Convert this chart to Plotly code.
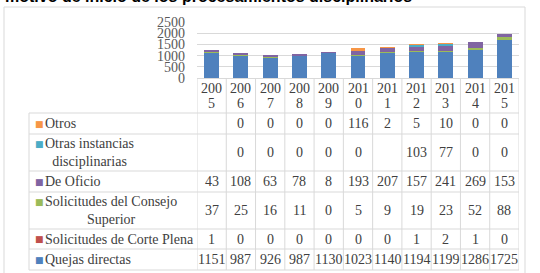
import plotly.graph_objects as go

# ---------------- data ----------------
years = ["2005", "2006", "2007", "2008", "2009", "2010", "2011", "2012", "2013", "2014", "2015"]
year_top = ["200", "200", "200", "200", "200", "201", "201", "201", "201", "201", "201"]
year_bottom = ["5", "6", "7", "8", "9", "0", "1", "2", "3", "4", "5"]

quejas_directas = [1151, 987, 926, 987, 1130, 1023, 1140, 1194, 1199, 1286, 1725]
corte_plena = [1, 0, 0, 0, 0, 0, 0, 1, 2, 1, 0]
consejo_superior = [37, 25, 16, 11, 0, 5, 9, 19, 23, 52, 88]
de_oficio = [43, 108, 63, 78, 8, 193, 207, 157, 241, 269, 153]
otras_instancias = [None, 0, 0, 0, 0, 0, None, 103, 77, 0, 0]
otros = [None, 0, 0, 0, 0, 116, 2, 5, 10, 0, 0]

series_names = ["Quejas directas", "Solicitudes de Corte Plena", "Solicitudes del Consejo Superior",
                "De Oficio", "Otras instancias disciplinarias", "Otros"]
series_labels = ["Quejas directas", "Solicitudes de Corte Plena", "Solicitudes del Consejo<br>Superior",
                 "De Oficio", "Otras instancias<br>disciplinarias", "Otros"]
series_values = [quejas_directas, corte_plena, consejo_superior, de_oficio, otras_instancias, otros]
series_colors = ["#4F81BD", "#C0504D", "#9BBB59", "#8064A2", "#4BACC6", "#F79646"]

y_ticks = [0, 500, 1000, 1500, 2000, 2500]
title_text = "motivo de inicio de los procesamientos disciplinarios"

# ---------------- layout geometry (pixels) ----------------
W, H = 540, 273
L, R, T, B = 197, 519, 22, 78
# table row boundaries (top to bottom): Otros ... Quejas directas
row_edges = [113, 134, 171, 192, 229, 249, 270]
header_lines = [88, 103]
label_left = 29
key_x = 33
text_x = 43
FONT = "Liberation Serif"
TXT = "#404040"
GRID = "#D9D9D9"


def xp(px):
    return (px - L) / (R - L)


def yp(py):
    return (B - py) / (B - T)


fig = go.Figure()
for name, vals, col in zip(series_names, series_values, series_colors):
    fig.add_trace(go.Bar(
        x=years, y=[v if v is not None else 0 for v in vals], name=name,
        marker=dict(color=col, line=dict(width=0)), showlegend=False,
    ))

shapes = []
annotations = []

# outer chart border
shapes.append(dict(type="rect", xref="paper", yref="paper", x0=xp(4), x1=xp(525), y0=yp(276), y1=yp(7),
                   line=dict(color=GRID, width=1), fillcolor="rgba(0,0,0,0)", layer="below"))

# horizontal table lines
for py in row_edges:
    shapes.append(dict(type="line", xref="paper", yref="paper", x0=xp(label_left), x1=1,
                       y0=yp(py), y1=yp(py), line=dict(color=GRID, width=1)))
# vertical lines between year columns
for i in range(len(years) + 1):
    shapes.append(dict(type="line", xref="x", yref="paper", x0=i - 0.5, x1=i - 0.5,
                       y0=yp(B), y1=yp(row_edges[-1]), line=dict(color=GRID, width=1)))
# left edge of label column
shapes.append(dict(type="line", xref="paper", yref="paper", x0=xp(label_left), x1=xp(label_left),
                   y0=yp(row_edges[0]), y1=yp(row_edges[-1]), line=dict(color=GRID, width=1)))

# header (years)
for i in range(len(years)):
    for txt, py in zip([year_top[i], year_bottom[i]], header_lines):
        annotations.append(dict(xref="x", yref="paper", x=i, y=yp(py), text=txt, showarrow=False,
                                xanchor="center", yanchor="middle",
                                font=dict(family=FONT, size=14, color=TXT)))

# table rows: top row is the last series
rows = list(range(len(series_names)))[::-1]
for r, s in enumerate(rows):
    cy = (row_edges[r] + row_edges[r + 1]) / 2
    nlines = series_labels[s].count("<br>") + 1
    key_y = cy - (nlines - 1) * 9
    annotations.append(dict(xref="paper", yref="paper", x=xp(key_x), y=yp(key_y), text="■",
                            showarrow=False, xanchor="left", yanchor="middle",
                            font=dict(family="DejaVu Sans", size=9, color=series_colors[s])))
    annotations.append(dict(xref="paper", yref="paper", x=xp(text_x), y=yp(cy), text=series_labels[s],
                            showarrow=False, xanchor="left", yanchor="middle", align="center",
                            font=dict(family=FONT, size=14, color=TXT)))
    for i, v in enumerate(series_values[s]):
        annotations.append(dict(xref="x", yref="paper", x=i, y=yp(cy),
                                text="" if v is None else str(v), showarrow=False,
                                xanchor="center", yanchor="middle",
                                font=dict(family=FONT, size=14, color=TXT)))

# clipped title
annotations.append(dict(xref="paper", yref="paper", x=xp(3), y=yp(-4), text="<b>" + title_text + "</b>",
                        showarrow=False, xanchor="left", yanchor="middle",
                        font=dict(family="Liberation Sans", size=16, color="#000000")))

fig.update_layout(
    width=W, height=H,
    margin=dict(l=L, r=W - R, t=T, b=H - B, pad=0),
    paper_bgcolor="white", plot_bgcolor="white",
    barmode="stack", bargap=0.49,
    shapes=shapes, annotations=annotations,
    xaxis=dict(type="category", categoryorder="array", categoryarray=years, range=[-0.5, len(years) - 0.5],
               showticklabels=False, showgrid=False, showline=True, linecolor=GRID, linewidth=1,
               ticks="", zeroline=False, fixedrange=True),
    yaxis=dict(range=[0, 2500], tickvals=y_ticks, showgrid=True, gridcolor=GRID, gridwidth=1,
               zeroline=False, showline=False, ticks="", ticklabelstandoff=11,
               tickfont=dict(family=FONT, size=14, color="#595959"), fixedrange=True),
)

fig.write_html("out.html")
